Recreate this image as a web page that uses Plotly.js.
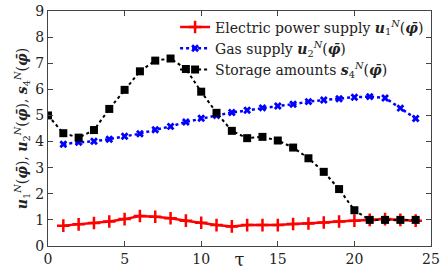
<!DOCTYPE html>
<html><head><meta charset="utf-8">
<script src="https://cdn.plot.ly/plotly-3.0.1.min.js"></script>
<style>html,body{margin:0;padding:0;background:#fff}#c{width:440px;height:270px}</style>
</head><body><div id="c"></div>
<script>
const tauStorage = [0,1,2,3,4,5,6,7,8,9,10,11,12,13,14,15,16,17,18,19,20,21,22,23,24];
const tauSupply = [1,2,3,4,5,6,7,8,9,10,11,12,13,14,15,16,17,18,19,20,21,22,23,24];
const electric = [0.78,0.83,0.88,0.94,1.03,1.15,1.12,1.06,0.97,0.89,0.80,0.75,0.80,0.80,0.80,0.84,0.86,0.90,0.94,0.97,1.00,1.03,1.00,0.97];
const gas = [3.90,3.97,4.01,4.09,4.20,4.30,4.45,4.58,4.75,4.89,5.00,5.11,5.20,5.29,5.36,5.43,5.53,5.59,5.64,5.70,5.72,5.67,5.28,4.88];
const storage = [5.00,4.32,4.15,4.44,5.25,5.98,6.69,7.10,7.18,6.78,5.91,5.10,4.41,4.13,4.18,4.04,3.77,3.36,2.84,2.18,1.37,1.00,1.00,1.00,1.00];
const names = [
  'Electric power supply <b><i>u</i></b><sub>1</sub><sup><i>N</i></sup>(<b><i>φ̄</i></b>)',
  'Gas supply <b><i>u</i></b><sub>2</sub><sup><i>N</i></sup>(<b><i>φ̄</i></b>)',
  'Storage amounts <b><i>s</i></b><sub>4</sub><sup><i>N</i></sup>(<b><i>φ̄</i></b>)'
];
const serif = 'DejaVu Serif';
const traces = [
  {x: tauSupply, y: electric, name: names[0], mode: 'lines+markers',
   line: {color: '#ff0000', width: 2.5},
   marker: {symbol: 'cross-thin', size: 9, color: '#ff0000', line: {color: '#ff0000', width: 2.5}}},
  {x: tauSupply, y: gas, name: names[1], mode: 'lines+markers',
   line: {color: '#0000ff', width: 2.5, dash: 'dot'},
   marker: {symbol: 'x', size: 7, color: '#0000ff'}},
  {x: tauStorage, y: storage, name: names[2], mode: 'lines+markers',
   line: {color: '#000000', width: 2, dash: 'dot'},
   marker: {symbol: 'square', size: 8, color: '#000000'}}
];
const layout = {
  width: 440, height: 270,
  margin: {l: 48, r: 9, t: 11, b: 24},
  paper_bgcolor: '#fff', plot_bgcolor: '#fff',
  font: {family: serif, size: 14, color: '#222'},
  showlegend: true,
  legend: {x: 0.995, y: 0.998, xanchor: 'right', yanchor: 'top', bgcolor: 'rgba(0,0,0,0)',
           font: {family: serif, size: 14, color: '#222'}, tracegroupgap: 0},
  xaxis: {range: [0, 25], tickvals: [0,5,10,15,20,25], ticks: 'inside', ticklen: 5,
          showline: true, mirror: 'ticks', linecolor: '#444', linewidth: 1, tickcolor: '#444',
          showgrid: false, zeroline: false, tickfont: {family: serif, size: 14, color: '#222'},
          automargin: false,
          title: {text: 'τ', font: {family: serif, size: 18, color: '#222'}, standoff: 8}},
  yaxis: {range: [0, 9], tickvals: [0,1,2,3,4,5,6,7,8,9], ticks: 'inside', ticklen: 5,
          showline: true, mirror: 'ticks', linecolor: '#444', linewidth: 1, tickcolor: '#444',
          showgrid: false, zeroline: false, tickfont: {family: serif, size: 14, color: '#222'},
          automargin: false,
          title: {text: '<b><i>u</i></b><sub>1</sub><sup><i>N</i></sup>(<b><i>φ̄</i></b>), <b><i>u</i></b><sub>2</sub><sup><i>N</i></sup>(<b><i>φ̄</i></b>), <b><i>s</i></b><sub>4</sub><sup><i>N</i></sup>(<b><i>φ̄</i></b>)',
                  font: {family: serif, size: 14, color: '#222'}, standoff: 4}}
};
Plotly.newPlot('c', traces, layout, {displayModeBar: false, staticPlot: true});
</script>
</body></html>
